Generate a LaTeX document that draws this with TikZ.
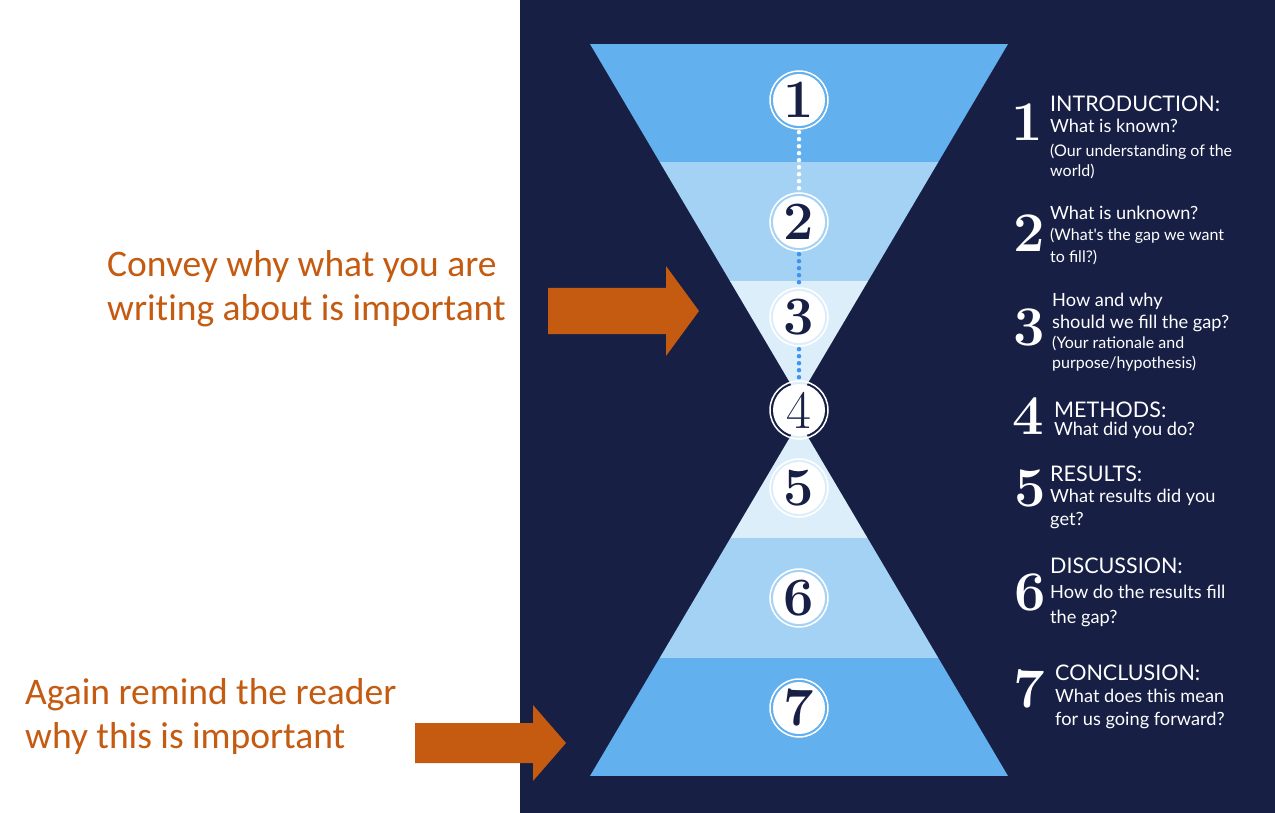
\documentclass[tikz,border=0pt]{standalone}
\usepackage{fontspec}
\usepackage{tikz}
\usetikzlibrary{positioning}
\newfontfamily\lato{Lato}
\newfontfamily\calib[Ligatures=NoCommon]{Carlito}
\definecolor{navy}{RGB}{23,31,69}
\definecolor{bandDark}{RGB}{98,176,238}
\definecolor{bandMid}{RGB}{164,210,245}
\definecolor{bandLight}{RGB}{221,238,251}
\definecolor{dotBlue}{RGB}{61,147,238}
\definecolor{arrowOrange}{RGB}{197,90,17}
\newcommand{\drawBlockArrow}[4]{
    \fill[arrowOrange] (#1,#2-#3) -- (#1+118,#2-#3) -- (#1+118,#2-#4) -- (#1+151,#2) -- (#1+118,#2+#4) -- (#1+118,#2+#3) -- (#1,#2+#3) -- cycle
}
\newcommand{\drawStep}[3]{
    \node[stepdisc] (#1) at (799,#2) {#3};
    \draw[white, line width=1.5pt] (#1.center) circle[radius=29pt]
}
\newcommand{\drawLabel}[5]{
    \node[desc, #4] (#1) at (#2,#3) {#5}
}

\begin{document}
\begin{tikzpicture}[x=1pt,y=-1pt,
        stepdisc/.style={circle, fill=white, minimum size=52pt, inner sep=0pt, text=navy, font=\fontsize{54}{54}\selectfont\bfseries},
        bignum/.style={inner sep=0pt, text=white, font=\fontsize{56}{56}\selectfont\bfseries},
        desc/.style={anchor=base west, inner sep=0pt, text=white},
        headTxt/.style={font=\lato\fontsize{21.5}{24}\selectfont},
        subTxt/.style={font=\lato\fontsize{18.2}{21}\selectfont},
        noteTxt/.style={font=\lato\fontsize{16}{18}\selectfont},
        sideTxt/.style={anchor=west, inner sep=0pt, align=left, text=arrowOrange, font=\calib\fontsize{37.5}{44}\selectfont},
        dots/.style={line width=4.5pt, line cap=round, dash pattern=on 0pt off 7pt, shorten <=6pt, shorten >=6pt}]
    \useasboundingbox (0,0) rectangle (1275,813);
    \fill[white] (0,0) rectangle (1275,813);
    \fill[navy] (520,0) rectangle (1275,813);

    % upper funnel
    \begin{scope}
        \clip (590,44) -- (1008,44) -- (799,398) -- cycle;
        \fill[bandDark] (580,44) rectangle (1020,162);
        \fill[bandMid] (580,162) rectangle (1020,281);
        \fill[bandLight] (580,281) rectangle (1020,410);
    \end{scope}
    % lower funnel
    \begin{scope}
        \clip (590,776) -- (1008,776) -- (799,422) -- cycle;
        \fill[bandDark] (580,776) rectangle (1020,658);
        \fill[bandMid] (580,658) rectangle (1020,538);
        \fill[bandLight] (580,538) rectangle (1020,410);
    \end{scope}

    \drawStep{s1}{100}{1};
    \drawStep{s2}{222}{2};
    \drawStep{s3}{317}{3};
    \drawStep{s4}{410}{\mdseries 4};
    \drawStep{s5}{488}{5};
    \drawStep{s6}{598}{6};
    \drawStep{s7}{708}{7};

    \draw[dots, white] (s1) -- (s2);
    \draw[dots, dotBlue] (s2) -- (s3);
    \draw[dots, dotBlue] (s3) -- (s4);

    % numbers on the right
    \node[bignum] (n1) at (1027,122) {1};
    \node[bignum] (n2) at (1029,233) {2};
    \node[bignum] (n3) at (1029,327) {3};
    \node[bignum] (n4) at (1028,416) {4};
    \node[bignum] (n5) at (1030,488) {5};
    \node[bignum] (n6) at (1030,592) {6};
    \node[bignum] (n7) at (1029,689) {7};

    \drawLabel{h1}{1050}{112}{headTxt}{INTRODUCTION:};
    \drawLabel{q1}{1050}{133}{subTxt}{What is known?};
    \drawLabel{p1a}{1050}{157}{noteTxt}{(Our understanding of the};
    \drawLabel{p1b}{1050}{177}{noteTxt}{world)};

    \drawLabel{q2}{1050}{220}{subTxt}{What is unknown?};
    \drawLabel{p2a}{1050}{241}{noteTxt}{(What's the gap we want};
    \drawLabel{p2b}{1050}{262}{noteTxt}{to fill?)};

    \drawLabel{q3a}{1052}{306}{subTxt}{How and why};
    \drawLabel{q3b}{1052}{328}{subTxt}{should we fill the gap?};
    \drawLabel{p3a}{1052}{348}{noteTxt}{(Your rationale and};
    \drawLabel{p3b}{1052}{368}{noteTxt}{purpose/hypothesis)};

    \drawLabel{h4}{1054}{417}{headTxt}{METHODS:};
    \drawLabel{q4}{1054}{435}{subTxt}{What did you do?};

    \drawLabel{h5}{1050}{481}{headTxt}{RESULTS:};
    \drawLabel{q5a}{1050}{502}{subTxt}{What results did you};
    \drawLabel{q5b}{1050}{525}{subTxt}{get?};

    \drawLabel{h6}{1050}{573}{headTxt}{DISCUSSION:};
    \drawLabel{q6a}{1050}{598}{subTxt}{How do the results fill};
    \drawLabel{q6b}{1050}{623}{subTxt}{the gap?};

    \drawLabel{h7}{1055}{680}{headTxt}{CONCLUSION:};
    \drawLabel{q7a}{1055}{702}{subTxt}{What does this mean};
    \drawLabel{q7b}{1055}{725}{subTxt}{for us going forward?};

    % remarks and arrows
    \node[sideTxt] (convey) at (107,289) {Convey why what you are\\writing about is important};
    \node[sideTxt] (again) at (25,716) {Again remind the reader\\why this is important};
    \drawBlockArrow{548}{311}{23}{45};
    \drawBlockArrow{415}{743}{20}{38};
\end{tikzpicture}
\end{document}
